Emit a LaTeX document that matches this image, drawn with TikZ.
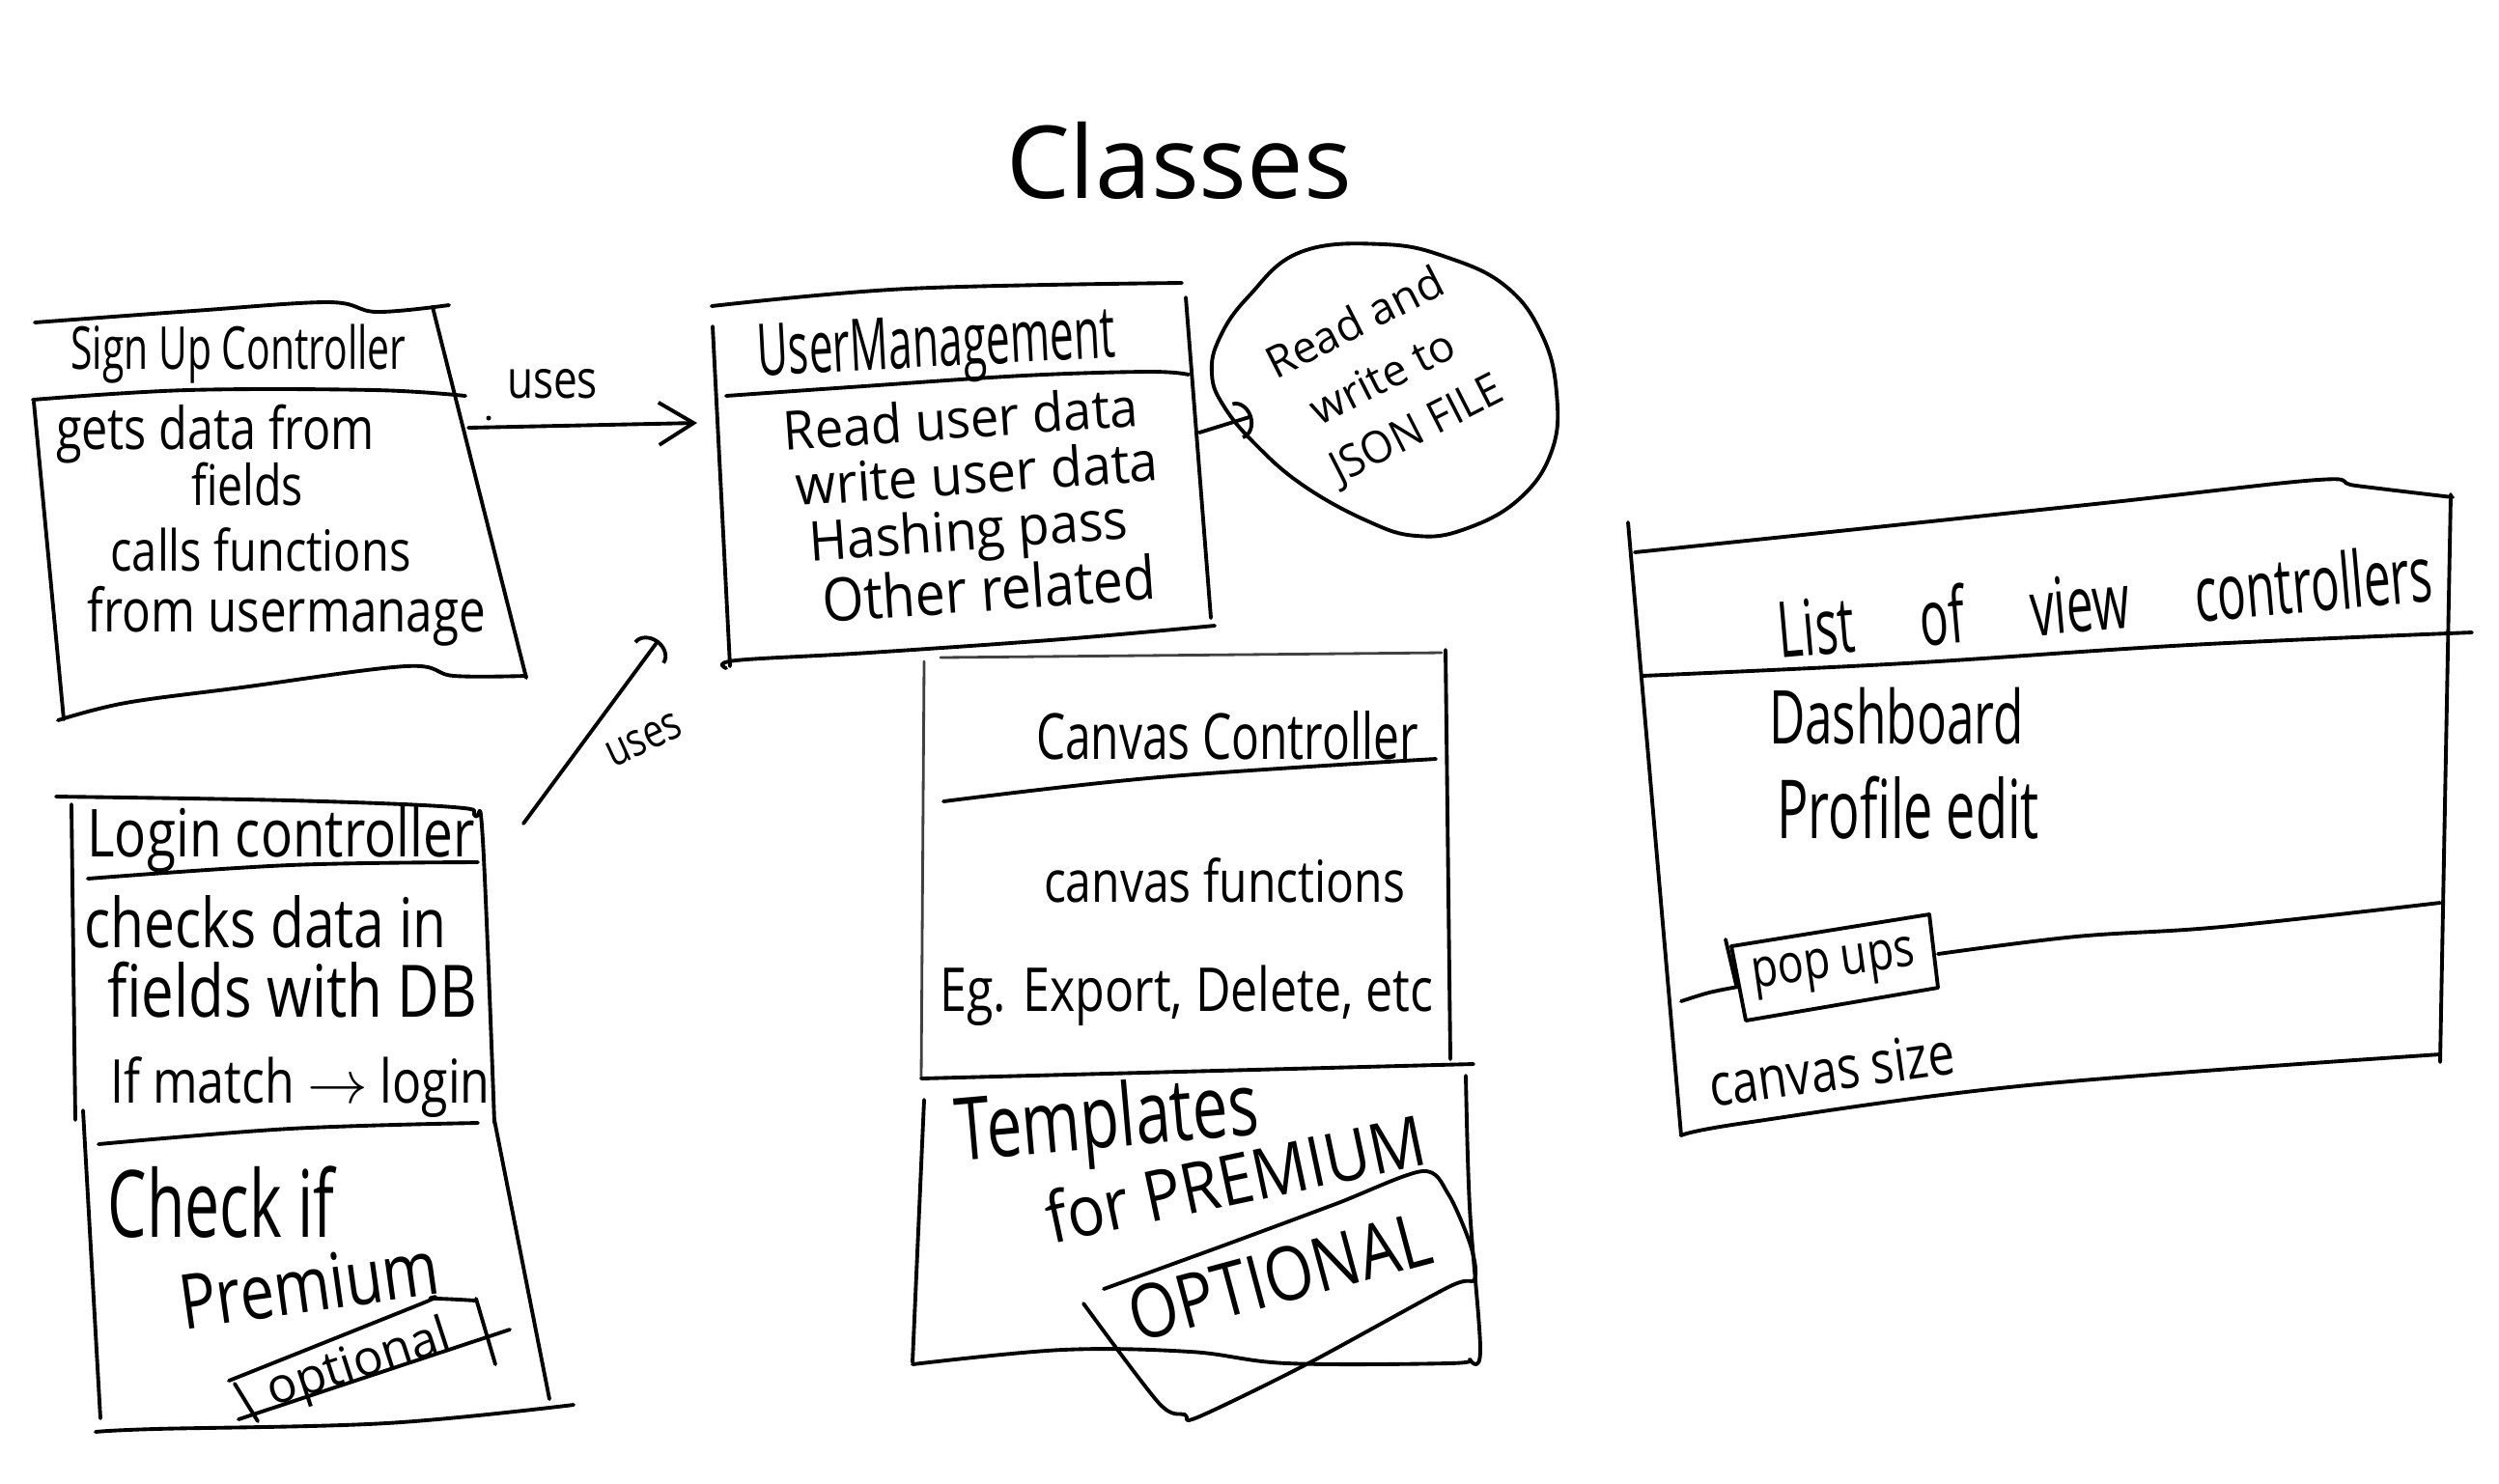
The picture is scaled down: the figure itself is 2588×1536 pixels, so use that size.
\documentclass[tikz,border=0pt]{standalone}
\usepackage{graphicx}
\usepackage{fontspec}
\setmainfont[FakeStretch=0.8]{Open Sans}
\newfontfamily\titlefont{Open Sans}
\usetikzlibrary{arrows.meta}
% one drawing unit = one pixel of a 2588 x 1536 sheet
\newlength\px
\setlength\px{0.1mm}
% handwritten-looking label squeezed to a given width (in px),
% optionally stretched or squashed vertically
\newcommand\hw[3][1]{\scalebox{1}[#1]{\resizebox{#2\px}{!}{#3}}}

\tikzset{
  pen/.style={line width=1.1pt, line cap=round, line join=round, black},
  faint/.style={line width=0.8pt, line cap=round, line join=round, black!75},
  txt/.style={inner sep=0pt, outer sep=0pt, anchor=center},
  lines/.style={txt, align=center, font=\fontsize{10pt}{#1}\selectfont},
  usesarrow/.style={pen, -{Straight Barb[length=3.6mm, width=4.4mm]}},
  arcarrow/.style={pen, -{Arc Barb[length=1.6mm, width=4mm]}},
}

\begin{document}
\begin{tikzpicture}[x=0.1mm, y=-0.1mm]
\useasboundingbox (0,0) rectangle (2588,1536);
\fill[white] (0,0) rectangle (2588,1536);

% ---------- title ----------
\node[txt] (title) at (1221,166) {\hw{358}{\titlefont Classes}};

% ---------- Sign Up Controller ----------
\draw[pen] plot[smooth, tension=0.6] coordinates {(36,334) (200,322) (340,313) (390,323) (465,316)};
\draw[pen] (448,318) -- (545,702);
\draw[pen] plot[smooth, tension=0.6] coordinates {(34,414) (194,404) (388,404) (482,410)};
\draw[pen] (35,416) -- (66,745);
\draw[pen] plot[smooth, tension=0.6] coordinates {(60,746) (130,728) (250,712) (420,690) (470,700) (545,700)};
\node[txt] (suH) at (247,367) {\hw[1.2]{347}{Sign Up Controller}};
\node[txt] (su1) at (223,450) {\hw{330}{gets data from}};
\node[txt] (su2) at (256,502) {\hw{116}{fields}};
\node[txt] (su3) at (270,569) {\hw{311}{calls functions}};
\node[txt] (su4) at (297,638) {\hw{412}{from usermanage}};

% ---------- UserManagement ----------
\draw[pen] plot[smooth, tension=0.6] coordinates {(737,317) (940,299) (1224,293)};
\draw[pen] (738,338) -- (756,690);
\draw[pen] plot[smooth, tension=0.6] coordinates {(752,410) (880,401) (1060,389) (1190,385) (1231,388)};
\draw[pen] (1228,308) -- (1254,640);
\draw[pen] plot[smooth, tension=0.6] coordinates {(752,692) (762,684) (900,676) (1100,662) (1258,648)};
\node[txt, rotate=3] (umH) at (970,362) {\hw[1.35]{371}{UserManagement}};
\node[lines=16.5pt, rotate=4] (umBody) at (1001,523) {%
  \hw[0.85]{368}{Read user data}\\
  \hspace*{26\px}\hw[0.85]{376}{write user data}\\
  \hw[0.85]{331}{Hashing pass}\hspace*{56\px}\\
  \hspace*{34\px}\hw[0.9]{346}{Other related}};

% ---------- JSON file bubble ----------
\draw[pen] plot[smooth cycle, tension=0.7] coordinates {
  (1347,261) (1433,253) (1500,267) (1560,297) (1597,347) (1612,407)
  (1607,467) (1573,517) (1517,548) (1467,555) (1417,540) (1350,503)
  (1300,460) (1267,420) (1255,387) (1263,350) (1293,307)};
\node[lines=18pt, rotate=27] (js) at (1433,393) {%
  \hw[0.8]{200}{Read and}\\
  \hw[0.8]{162}{write to}\\
  \hspace*{14\px}\hw[0.85]{194}{JSON FILE}};

% ---------- Login controller ----------
\draw[pen] plot[smooth, tension=0.6] coordinates {(58,825) (300,829) (470,836) (492,845) (500,870) (512,1163)};
\draw[pen] (512,1160) -- (569,1449);
\draw[pen] (74,833) -- (78,1160);
\draw[pen] (86,1150) -- (104,1469);
\draw[pen] plot[smooth, tension=0.6] coordinates {(91,910) (300,896) (495,893)};
\draw[pen] plot[smooth, tension=0.6] coordinates {(102,1185) (300,1169) (495,1163)};
\draw[pen] plot[smooth, tension=0.6] coordinates {(99,1483) (160,1480) (400,1474) (594,1455)};
\node[txt] (liH) at (291,870) {\hw{401}{Login controller}};
\node[txt] (li1) at (275,955) {\hw{375}{checks data in}};
\node[txt] (li2) at (303,1025) {\hw{383}{fields with DB}};
\node[txt] (li3) at (311,1126) {\hw{393}{If match $\rightarrow$ login}};
\node[txt] (li4) at (229,1245) {\hw[1.2]{235}{Check if}};
\node[txt, rotate=8] (li5) at (320,1330) {\hw{270}{Premium}};
\node[txt, rotate=18] (li6) at (372,1414) {\hw[0.8]{196}{optional}};
% frame round "optional"
\draw[pen] plot[smooth, tension=0.5] coordinates {(237,1430) (437,1350) (447,1345) (493,1347)};
\draw[pen] (493,1345) -- (513,1413);
\draw[pen] (247,1470) -- (528,1377);
\draw[pen] (243,1433) -- (267,1472);

% ---------- Canvas Controller ----------
\draw[faint] (974,681) -- (1493,676);
\draw[faint] (957,685) -- (954,1117);
\draw[pen] (1497,673) -- (1502,1097);
\draw[pen] plot[smooth, tension=0.6] coordinates {(977,830) (1200,805) (1487,786)};
\draw[pen] (954,1117) -- (1526,1102);
\node[txt] (cvH) at (1271,762) {\hw[1.1]{396}{Canvas Controller}};
\node[txt] (cv1) at (1268,912) {\hw{374}{canvas functions}};
\node[txt] (cv2) at (1229,1031) {\hw{511}{Eg. Export, Delete, etc}};

% ---------- Templates ----------
\draw[pen] (957,1139) -- (945,1411);
\draw[pen] plot[smooth, tension=0.6] coordinates {(1518,1114) (1522,1250) (1533,1398) (1522,1408)};
\draw[pen] plot[smooth, tension=0.6] coordinates {(945,1413) (1100,1398) (1233,1400) (1333,1412) (1500,1412) (1522,1408)};
\node[txt, rotate=5] (tp1) at (1147,1165) {\hw[1.1]{314}{Templates}};
\node[txt, rotate=12] (tp2) at (1279,1220) {\hw[0.9]{400}{for PREMIUM}};
\node[txt, rotate=15] (tp3) at (1325,1322) {\hw[0.95]{320}{OPTIONAL}};
% loop round "OPTIONAL"
\draw[pen] plot[smooth, tension=0.5] coordinates {
  (1143,1335) (1267,1290) (1383,1247) (1473,1213) (1500,1237) (1523,1290)
  (1527,1325) (1500,1333) (1353,1413) (1240,1468) (1227,1465) (1200,1453) (1122,1350)};

% ---------- List of view controllers ----------
\draw[pen] plot[smooth, tension=0.6] coordinates {(1693,572) (1895,551) (2188,520) (2400,497) (2440,503) (2540,515)};
\draw[pen] (1686,541) -- (1741,1176);
\draw[pen] (2538,512) -- (2527,1100);
\draw[pen] plot[smooth, tension=0.6] coordinates {(1700,700) (1973,687) (2267,668) (2560,655)};
\draw[pen] plot[smooth, tension=0.6] coordinates {(1741,1037) (1770,1028) (1800,1022)};
\draw[pen] plot[smooth, tension=0.6] coordinates {(2007,988) (2150,970) (2300,960) (2527,935)};
\draw[pen] plot[smooth, tension=0.6] coordinates {(1741,1176) (1807,1163) (2100,1124) (2527,1092)};
\node[txt, rotate=5] (lvH) at (2180,622) {\hw[1.3]{680}{List\hspace{1.1em}of\hspace{1.1em}view\hspace{1.1em}controllers}};
\node[txt] (lv1) at (1964,742) {\hw[1.2]{264}{Dashboard}};
\node[txt] (lv2) at (1976,837) {\hw[1.25]{272}{Profile edit}};
\draw[pen] (1793,980) -- (1998,947) -- (2007,1023) -- (1808,1057) -- cycle;
\draw[pen] (1787,973) -- (1798,1020);
\node[txt, rotate=8] (lv3) at (1899,1003) {\hw{170}{pop ups}};
\node[txt, rotate=8] (lv4) at (1897,1107) {\hw{255}{canvas size}};

% ---------- connectors ----------
\coordinate (suOut) at (485,443);
\coordinate (umIn) at (722,438);
\coordinate (liOut) at (542,853);
\coordinate (umIn2) at (682,663);
\coordinate (umOut) at (1242,448);
\coordinate (jsIn) at (1297,431);
\fill (506,433) circle (2.5);
\draw[usesarrow] (suOut) -- (umIn);
\node[txt] (uses1) at (572,398) {\hw{94}{uses}};
\draw[arcarrow] (liOut) -- (umIn2);
\node[txt, rotate=25] (uses2) at (667,766) {\hw{82}{uses}};
\draw[arcarrow] (umOut) -- (jsIn);
\end{tikzpicture}
\end{document}
